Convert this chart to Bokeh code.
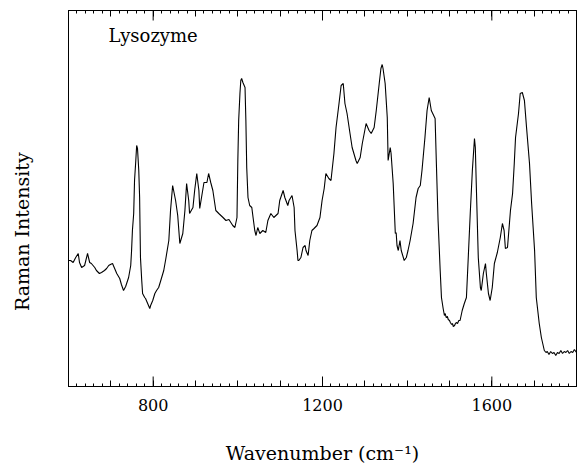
from bokeh.plotting import figure
from bokeh.models import Range1d, LinearAxis, FixedTicker, Label
from bokeh.embed import file_html
from bokeh.resources import INLINE

# Raman spectrum of lysozyme (arbitrary intensity units)
wavenumber = [600, 605, 611, 617, 623, 626, 631, 638, 645, 650, 654, 662, 666, 673, 678, 685, 690, 695, 699, 704,
              709, 714, 721, 725, 730, 735, 742, 747, 749, 751, 754, 756, 759, 761, 763, 766, 768, 770, 773, 775,
              780, 782, 787, 792, 794, 799, 804, 808, 813, 818, 825, 830, 837, 841, 846, 853, 858, 863, 870, 875,
              879, 884, 886, 894, 898, 903, 908, 910, 915, 920, 927, 931, 936, 941, 948, 955, 965, 972, 979, 988,
              993, 998, 1000, 1002, 1005, 1007, 1009, 1012, 1017, 1019, 1021, 1024, 1028, 1033, 1036, 1040, 1043,
              1047, 1052, 1059, 1066, 1071, 1078, 1085, 1095, 1099, 1107, 1111, 1118, 1121, 1128, 1133, 1135, 1140,
              1142, 1144, 1149, 1154, 1159, 1161, 1166, 1170, 1175, 1180, 1187, 1194, 1199, 1204, 1208, 1215, 1220,
              1227, 1232, 1239, 1244, 1249, 1253, 1258, 1265, 1270, 1279, 1282, 1289, 1294, 1303, 1310, 1315, 1322,
              1327, 1334, 1338, 1341, 1343, 1348, 1353, 1355, 1360, 1362, 1367, 1372, 1374, 1376, 1379, 1383, 1386,
              1393, 1398, 1402, 1407, 1414, 1421, 1426, 1431, 1435, 1442, 1447, 1452, 1457, 1466, 1469, 1473, 1478,
              1481, 1485, 1488, 1490, 1492, 1495, 1497, 1500, 1502, 1505, 1507, 1509, 1512, 1514, 1516, 1519, 1522,
              1525, 1530, 1535, 1540, 1544, 1549, 1554, 1559, 1561, 1563, 1568, 1573, 1575, 1580, 1585, 1587, 1592,
              1596, 1601, 1606, 1613, 1620, 1625, 1629, 1632, 1637, 1644, 1649, 1653, 1656, 1663, 1667, 1672, 1677,
              1682, 1689, 1694, 1701, 1705, 1712, 1717, 1724, 1728, 1731, 1735, 1739, 1743, 1747, 1751, 1755, 1759,
              1763, 1767, 1771, 1775, 1779, 1783, 1787, 1791, 1795, 1800]
intensity = [126, 126, 124, 129, 133, 124, 119, 121, 133, 124, 123, 119, 116, 113, 114, 116, 118, 121, 122, 123,
             118, 113, 108, 102, 96, 100, 109, 121, 136, 156, 173, 206, 226, 241, 238, 216, 189, 129, 106, 93,
             89, 88, 83, 78, 81, 86, 93, 96, 99, 106, 116, 128, 146, 176, 201, 186, 171, 143, 153, 176,
             203, 186, 173, 179, 196, 213, 196, 178, 191, 204, 204, 213, 204, 196, 176, 173, 169, 166, 167, 161,
             159, 169, 226, 266, 293, 306, 308, 304, 299, 266, 219, 189, 181, 179, 169, 156, 151,
             159, 153, 156, 154, 166, 173, 169, 173, 186, 196, 189, 181, 186, 191, 179, 156, 136,
             126, 126, 129, 139, 141, 136, 131, 146, 156, 158, 161, 169, 186, 198, 213, 208, 206,
             233, 259, 283, 301, 303, 283, 273, 253, 239, 226, 223, 229, 243, 263, 256, 253, 259,
             276, 303, 318, 322, 318, 303, 269, 226, 239, 233, 203, 153, 154, 141, 136, 146, 136,
             126, 129, 136, 146, 163, 189, 198, 201, 216, 249, 276, 289, 276, 268, 223, 166, 116,
             89, 78, 71, 73, 69, 70, 67, 66, 64, 62, 63, 60, 61, 63, 64, 63, 66,
             66, 76, 83, 89, 126, 173, 216, 248, 239, 206, 129, 99, 96, 113, 123, 113, 93,
             86, 99, 123, 134, 149, 163, 156, 138, 139, 176, 193, 223, 249, 273, 293, 294, 286,
             259, 223, 183, 136, 89, 63, 49, 36, 34, 35, 32, 35, 33, 34, 31, 34, 33,
             36, 33, 35, 34, 36, 33, 35, 34, 37, 34]

hundred_ticks = [600, 700, 800, 900, 1000, 1100, 1200, 1300, 1400, 1500, 1600, 1700, 1800]
minor_ticks = [600, 620, 640, 660, 680, 700, 720, 740, 760, 780, 800, 820, 840, 860, 880, 900, 920, 940, 960, 980,
               1000, 1020, 1040, 1060, 1080, 1100, 1120, 1140, 1160, 1180, 1200, 1220, 1240, 1260, 1280, 1300,
               1320, 1340, 1360, 1380, 1400, 1420, 1440, 1460, 1480, 1500, 1520, 1540, 1560, 1580, 1600, 1620,
               1640, 1660, 1680, 1700, 1720, 1740, 1760, 1780, 1800]
labeled_ticks = [800, 1200, 1600]
tick_labels = ["800", "1200", "1600"]

FONT = "DejaVu Serif"
Y_MAX = 376
NBSP = "\u00a0"
TICK = "black"

p = figure(width=577, height=469, x_range=Range1d(600, 1800), y_range=Range1d(0, Y_MAX),
           output_backend="svg", toolbar_location=None,
           min_border_left=68, min_border_right=1, min_border_top=10, min_border_bottom=83)
p.grid.visible = False
p.outline_line_color = "black"
p.outline_line_width = 1
p.background_fill_color = "white"
p.border_fill_color = "white"

overrides = {}
for t in hundred_ticks:
    overrides[t] = ""
for t, lab in zip(labeled_ticks, tick_labels):
    overrides[t] = lab

ax = p.xaxis[0]
ax.ticker = FixedTicker(ticks=hundred_ticks, minor_ticks=minor_ticks)
ax.major_label_overrides = overrides
ax.major_tick_in = 6
ax.major_tick_out = 0
ax.minor_tick_in = 3
ax.minor_tick_out = 0
ax.axis_line_color = "black"
ax.major_tick_line_color = TICK
ax.minor_tick_line_color = TICK
ax.major_label_text_font = FONT
ax.major_label_text_font_size = "16px"
ax.major_label_text_color = "black"
ax.major_label_standoff = 12
ax.axis_label = "Wavenumber (cm\u207b\u00b9)"
ax.axis_label_text_font = FONT
ax.axis_label_text_font_size = "19px"
ax.axis_label_text_font_style = "normal"
ax.axis_label_text_color = "black"
ax.axis_label_standoff = 28

yax = p.yaxis[0]
yax.ticker = FixedTicker(ticks=[-100], minor_ticks=[-100])
yax.major_tick_in = 0
yax.major_tick_out = 0
yax.minor_tick_in = 0
yax.minor_tick_out = 0
yax.major_label_text_font_size = "0px"
yax.major_label_standoff = 0
yax.axis_line_color = "black"
yax.axis_label = "Raman Intensity" + NBSP * 11
yax.axis_label_text_font = FONT
yax.axis_label_text_font_size = "19px"
yax.axis_label_text_font_style = "normal"
yax.axis_label_text_color = "black"
yax.axis_label_standoff = 36

top = LinearAxis(ticker=FixedTicker(ticks=hundred_ticks, minor_ticks=minor_ticks),
                 major_label_overrides={t: "" for t in hundred_ticks},
                 major_label_text_font_size="0px", major_label_standoff=0,
                 major_tick_in=6, major_tick_out=0, minor_tick_in=3, minor_tick_out=0,
                 axis_line_color="black", major_tick_line_color=TICK, minor_tick_line_color=TICK)
p.add_layout(top, "above")

# longer ticks at the labelled positions (bottom and top edges)
p.segment(x0=labeled_ticks, y0=[0] * 3, x1=labeled_ticks, y1=[10] * 3, line_color=TICK, line_width=1)
p.segment(x0=labeled_ticks, y0=[Y_MAX - 10] * 3, x1=labeled_ticks, y1=[Y_MAX] * 3, line_color=TICK, line_width=1)

p.line(wavenumber, intensity, line_color="black", line_width=1.1)

p.add_layout(Label(x=40, y=351, x_units="screen", y_units="screen", text="Lysozyme",
                   text_font=FONT, text_font_size="18px", text_color="black",
                   text_align="left", text_baseline="alphabetic"))

open("out.html", "w").write(file_html(p, INLINE))
